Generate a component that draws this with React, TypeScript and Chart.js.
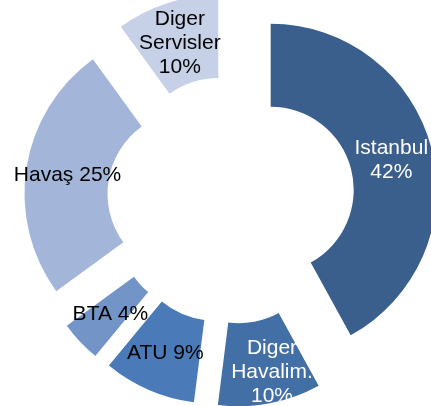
import React, { useEffect, useRef } from "react";
import { Chart, registerables } from "chart.js";

Chart.register(...registerables);

const categories = ["Istanbul", "Diger Havalim.", "ATU", "BTA", "Havaş", "Diger Servisler"];
const shares = [42, 10, 9, 4, 25, 10];
const labelTexts = [
  ["Istanbul", "42%"],
  ["Diger", "Havalim.", "10%"],
  ["ATU 9%"],
  ["BTA 4%"],
  ["Havaş 25%"],
  ["Diger", "Servisler", "10%"],
];

const colors = ["#3A5F8C", "#426FA5", "#4A7BB8", "#7394C7", "#A3B6D9", "#C6D1E7"];
const textColors = ["#FFFFFF", "#FFFFFF", "#000000", "#000000", "#000000", "#000000"];
const labelShift = [
  [0, 0],
  [10, 9],
  [0, 0],
  [0, 0],
  [0, 0],
  [0, 0],
];
const explode = 41;

const explodePlugin = {
  id: "explodeArcs",
  beforeDatasetDraw(chart: any, args: any) {
    const ctx = chart.ctx;
    const meta = chart.getDatasetMeta(args.index);
    meta.data.forEach((arc: any) => {
      const half = (arc.startAngle + arc.endAngle) / 2;
      ctx.save();
      ctx.translate(Math.cos(half) * explode, Math.sin(half) * explode);
      arc.draw(ctx);
      ctx.restore();
    });
    return false;
  },
  afterDatasetsDraw(chart: any) {
    const ctx = chart.ctx;
    const meta = chart.getDatasetMeta(0);
    ctx.save();
    ctx.font = '21px "Liberation Sans", Arial, sans-serif';
    ctx.textAlign = "center";
    ctx.textBaseline = "middle";
    meta.data.forEach((arc: any, i: number) => {
      const half = (arc.startAngle + arc.endAngle) / 2;
      const r = (arc.innerRadius + arc.outerRadius) / 2 + explode;
      const cx = arc.x + Math.cos(half) * r + labelShift[i][0];
      const cy = arc.y + Math.sin(half) * r + labelShift[i][1];
      const lines = labelTexts[i];
      const lh = 24;
      ctx.fillStyle = textColors[i];
      lines.forEach((t, k) => {
        ctx.fillText(t, cx, cy + (k - (lines.length - 1) / 2) * lh + 1);
      });
    });
    ctx.restore();
  },
};

export default function App() {
  const ref = useRef<HTMLCanvasElement | null>(null);
  useEffect(() => {
    if (!ref.current) return;
    const chart = new Chart(ref.current, {
      type: "doughnut",
      data: {
        labels: categories,
        datasets: [
          {
            data: shares,
            backgroundColor: colors,
            borderWidth: 0,
          },
        ],
      },
      options: {
        animation: false,
        responsive: false,
        devicePixelRatio: 1,
        cutout: "50%",
        radius: 166,
        layout: { padding: { left: 31, right: 0, top: 0, bottom: 6 } },
        plugins: {
          legend: { display: false },
          tooltip: { enabled: false },
        },
      },
      plugins: [explodePlugin],
    });
    return () => chart.destroy();
  }, []);
  return (
    <div style={{ position: "absolute", left: 0, top: 0, width: 431, height: 406, background: "#fff" }}>
      <canvas ref={ref} width={431} height={406} style={{ display: "block" }} />
    </div>
  );
}
